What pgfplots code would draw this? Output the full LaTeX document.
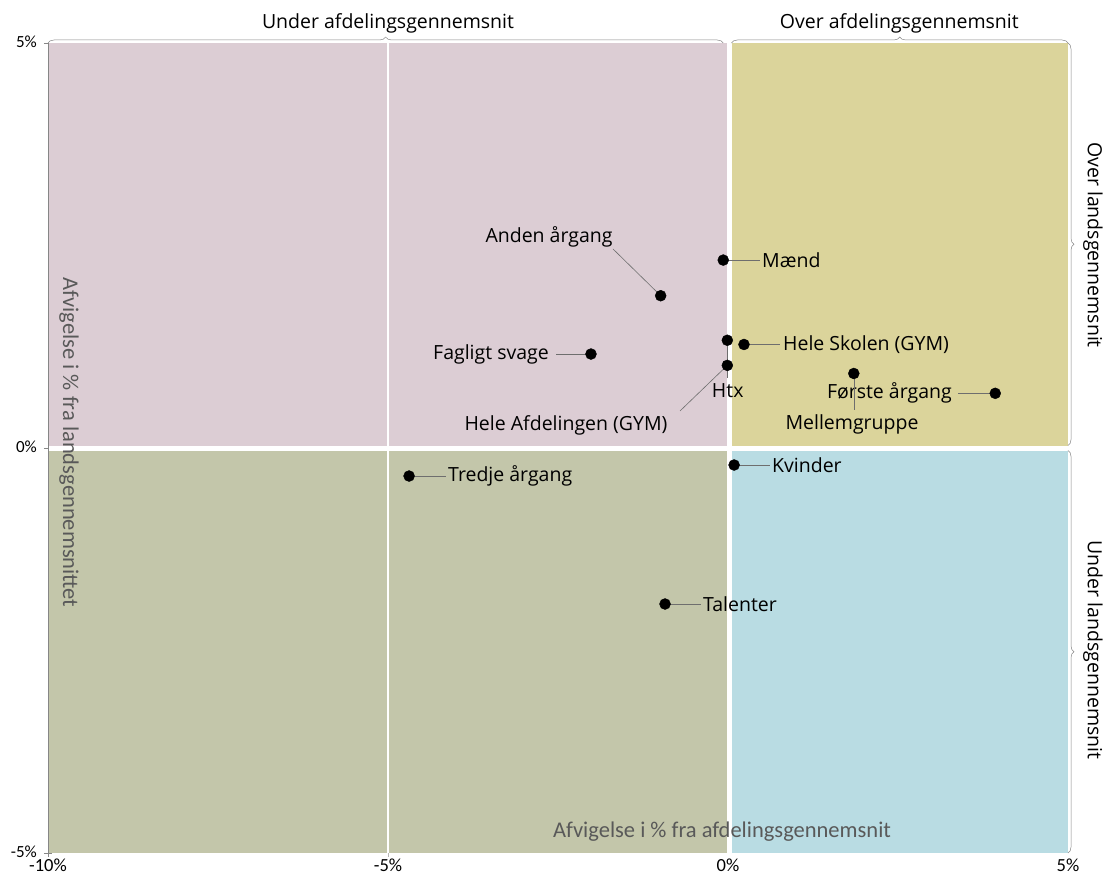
\documentclass[border=0pt]{standalone}
\usepackage{pgfplots}
\pgfplotsset{compat=1.18}
\usepackage{fontspec}
\setmainfont{Open Sans}
\newfontfamily\narrowfont{Carlito}
\usetikzlibrary{decorations.pathreplacing}
\definecolor{qTL}{HTML}{DCCDD4}
\definecolor{qTR}{HTML}{DBD49B}
\definecolor{qBL}{HTML}{C3C6AA}
\definecolor{qBR}{HTML}{B9DCE3}
\definecolor{axgray}{HTML}{868686}
\definecolor{titlegray}{HTML}{595959}
\definecolor{leader}{HTML}{6E6E6E}
\pgfplotstableread{
x y
-0.07 2.32
-0.99 1.88
-2.015 1.16
0.235 1.278
-0.01 1.33
-0.01 1.02
3.93 0.675
1.85 0.92
0.09 -0.21
-4.69 -0.346
-0.926 -1.926
}\pts
\newcommand{\lab}{\fontsize{19.5}{22}\selectfont}
\begin{document}
\begin{tikzpicture}
\path[use as bounding box] (-48pt,-23pt) rectangle (1059pt,853pt);
\begin{axis}[at={(0pt,0pt)}, anchor=south west, scale only axis,
  width=1020pt, height=810pt,
  xmin=-10, xmax=5, ymin=-5, ymax=5,
  clip=false,
  axis line style={draw=none},
  xtick={-10,-5,0,5}, xticklabels={-10\%,-5\%,0\%,5\%},
  ytick={-5,0,5}, yticklabels={-5\%,0\%,5\%},
  xtick pos=lower, ytick pos=left,
  tick style={axgray, line width=0.6pt},
  xtick align=inside, ytick align=center,
  major tick length=8pt,
  xtick style={draw=none},
  xticklabel style={font=\narrowfont\fontsize{18.5}{20}\selectfont, anchor=north, inner sep=0pt, yshift=-6pt},
  yticklabel style={font=\narrowfont\fontsize{17}{19}\selectfont, inner sep=0pt, xshift=-7pt, yshift=1pt},
]
% quadrant backgrounds
\fill[qTL] (axis cs:-10,0) rectangle (axis cs:0,5);
\fill[qTR] (axis cs:0,0) rectangle (axis cs:5,5);
\fill[qBL] (axis cs:-10,-5) rectangle (axis cs:0,0);
\fill[qBR] (axis cs:0,-5) rectangle (axis cs:5,0);
\draw[white, line width=5pt] (axis cs:0.02,-5) -- (axis cs:0.02,5);
\draw[white, line width=5pt] (axis cs:-10,0.0) -- (axis cs:5,0.0);
\draw[white, line width=2pt] (axis cs:-5,-5) -- (axis cs:-5,5);
% bottom tick marks
\draw[axgray, line width=0.6pt] (axis cs:-10,-5) -- ([yshift=-4pt]axis cs:-10,-5);
\draw[axgray!60, line width=0.6pt] (axis cs:-5,-5) -- ([yshift=-4pt]axis cs:-5,-5);
% left axis line
\draw[axgray, line width=0.6pt] (axis cs:-10,-5) -- (axis cs:-10,5);
% braces
\draw[axgray, line width=0.5pt, decorate, decoration={brace, amplitude=6pt}] (axis cs:-10,5) -- (axis cs:-0.07,5);
\draw[axgray, line width=0.5pt, decorate, decoration={brace, amplitude=6pt}] (axis cs:0.05,5) -- (axis cs:5,5);
\draw[axgray, line width=0.5pt, decorate, decoration={brace, amplitude=6pt}] (axis cs:5,5) -- (axis cs:5,0.03);
\draw[axgray, line width=0.5pt, decorate, decoration={brace, amplitude=6pt}] (axis cs:5,-0.03) -- (axis cs:5,-5);
\node[font=\fontsize{19.5}{22}\selectfont] at (axis cs:-5.0,5.247) {Under afdelingsgennemsnit};
\node[font=\fontsize{19.5}{22}\selectfont] at (axis cs:2.52,5.247) {Over afdelingsgennemsnit};
\node[font=\fontsize{19.5}{22}\selectfont, rotate=-90] at (axis cs:5.368,2.506) {Over landsgennemsnit};
\node[font=\fontsize{19.5}{22}\selectfont, rotate=-90] at (axis cs:5.368,-2.494) {Under landsgennemsnit};
% axis titles
\node[titlegray, font=\narrowfont\fontsize{22.5}{25}\selectfont] at (axis cs:-0.088,-4.741) {Afvigelse i \% fra afdelingsgennemsnit};
\node[titlegray, font=\narrowfont\fontsize{22.5}{25}\selectfont, rotate=-90] at (axis cs:-9.69,0.068) {Afvigelse i \% fra landsgennemsnittet};
% leader lines and labels
\draw[leader, line width=0.6pt] (axis cs:-0.07,2.32) -- (axis cs:0.471,2.32);
\node[anchor=west, inner sep=0pt, font=\lab] at (axis cs:0.5,2.32) {Mænd};
\draw[leader, line width=0.6pt] (axis cs:-0.99,1.88) -- (axis cs:-1.691,2.457);
\node[font=\lab] at (axis cs:-2.632,2.605) {Anden årgang};
\draw[leader, line width=0.6pt] (axis cs:-2.015,1.16) -- (axis cs:-2.529,1.16);
\node[anchor=east, inner sep=0pt, font=\lab] at (axis cs:-2.632,1.16) {Fagligt svage};
\draw[leader, line width=0.6pt] (axis cs:0.235,1.278) -- (axis cs:0.765,1.278);
\node[anchor=west, inner sep=0pt, font=\lab] at (axis cs:0.809,1.278) {Hele Skolen (GYM)};
\draw[leader, line width=0.6pt] (axis cs:-0.01,1.33) -- (axis cs:-0.01,0.864);
\node[font=\lab] at (axis cs:-0.004,0.704) {Htx};
\draw[leader, line width=0.6pt] (axis cs:-0.01,1.02) -- (axis cs:-0.706,0.457);
\node[font=\lab] at (axis cs:-2.382,0.284) {Hele Afdelingen (GYM)};
\draw[leader, line width=0.6pt] (axis cs:3.93,0.675) -- (axis cs:3.382,0.675);
\node[anchor=east, inner sep=0pt, font=\lab] at (axis cs:3.294,0.675) {Første årgang};
\draw[leader, line width=0.6pt] (axis cs:1.85,0.92) -- (axis cs:1.85,0.469);
\node[font=\lab] at (axis cs:1.824,0.296) {Mellemgruppe};
\draw[leader, line width=0.6pt] (axis cs:0.09,-0.21) -- (axis cs:0.618,-0.21);
\node[anchor=west, inner sep=0pt, font=\lab] at (axis cs:0.647,-0.21) {Kvinder};
\draw[leader, line width=0.6pt] (axis cs:-4.69,-0.346) -- (axis cs:-4.147,-0.346);
\node[anchor=west, inner sep=0pt, font=\lab] at (axis cs:-4.118,-0.346) {Tredje årgang};
\draw[leader, line width=0.6pt] (axis cs:-0.926,-1.926) -- (axis cs:-0.397,-1.926);
\node[anchor=west, inner sep=0pt, font=\lab] at (axis cs:-0.368,-1.926) {Talenter};
% points
\addplot[only marks, mark=*, mark size=5.5pt, mark options={fill=black, draw=black}] table[x=x, y=y] {\pts};
\end{axis}
\end{tikzpicture}
\end{document}
